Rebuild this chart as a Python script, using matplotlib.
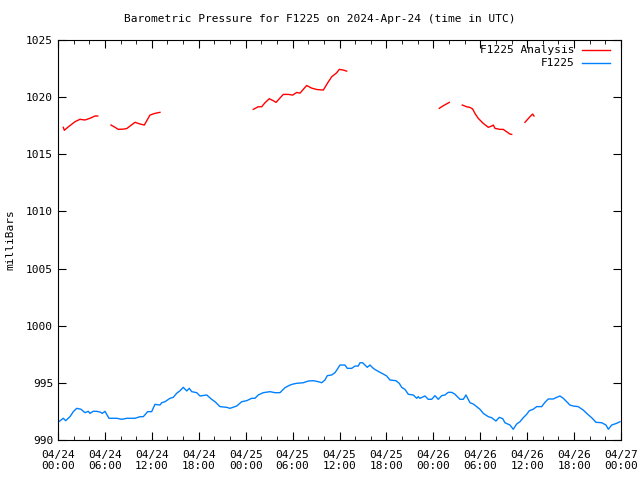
import numpy as np
import pandas as pd
import matplotlib
matplotlib.use('Agg')
import matplotlib.pyplot as plt
import matplotlib.dates as mdates

# hours after 2024-04-24 00:00 UTC, pressure in mb
# analysis series, NaN marks the gaps between runs
ana_hours = [0.68, 0.81, 1.32, 2.17, 2.81, 3.45, 4.09, 4.73, 5.08, 5.9,
             6.78, 7.29, 7.71, 8.35, 8.79, 9.85, 10.49, 11.04, 11.76, 12.40, 13.04, 19.0,
             24.97, 25.61, 26.05, 26.47, 27.02, 27.53, 27.88, 28.81, 29.45, 30.01, 30.52,
             30.95, 31.80, 32.44, 33.08, 33.93, 34.57, 35.0, 35.64, 35.97, 36.48, 36.92, 43.0,
             48.76, 49.27, 50.04, 50.9,
             51.7, 52.26, 52.69, 53.03, 53.32, 53.75, 54.39, 55.03, 55.46, 55.67, 55.88,
             56.52, 56.94, 57.38, 57.80, 58.02, 58.9,
             59.72, 60.36, 60.70, 60.87]
ana_mb = [1017.36, 1017.1, 1017.4, 1017.85, 1018.06, 1018.0, 1018.15, 1018.35, 1018.35, np.nan,
          1017.56, 1017.36, 1017.18, 1017.2, 1017.25, 1017.8, 1017.65, 1017.56, 1018.43, 1018.58, 1018.67, np.nan,
          1018.93, 1019.16, 1019.16, 1019.51, 1019.86, 1019.69, 1019.54, 1020.24, 1020.24, 1020.18, 1020.41,
          1020.35, 1021.02, 1020.79, 1020.67, 1020.62, 1021.34, 1021.78, 1022.13, 1022.43, 1022.37, 1022.28, np.nan,
          1019.02, 1019.25, 1019.54, np.nan,
          1019.31, 1019.16, 1019.1, 1018.96, 1018.58, 1018.14, 1017.7, 1017.36, 1017.47, 1017.56, 1017.27,
          1017.18, 1017.18, 1016.97, 1016.77, 1016.74, np.nan,
          1017.8, 1018.29, 1018.52, 1018.35]

obs_hours = [0.1, 0.68, 0.98, 1.53, 1.96, 2.39, 2.94, 3.45, 3.87, 4.09, 4.51, 4.95, 5.37, 5.66, 6.01,
             6.52, 7.51, 8.15, 8.79, 9.85, 10.49, 10.91, 11.47, 11.98, 12.40, 13.04, 13.26, 13.68,
             14.32, 14.74, 15.18, 15.60, 16.02, 16.46, 16.79, 17.10, 17.74, 18.16, 19.02, 19.65,
             20.08, 20.72, 21.57, 21.99, 22.85, 23.49, 24.13, 24.77, 25.19, 25.61, 26.25, 27.11,
             27.75, 28.39, 29.03, 29.67, 30.09, 30.52, 31.37, 32.01, 32.65, 33.29, 33.72, 34.14,
             34.44, 35.0, 35.42, 35.72, 36.06, 36.70, 36.99, 37.56, 37.98, 38.40, 38.62, 38.96,
             39.26, 39.55, 39.90, 40.32, 40.66, 41.18, 41.60, 42.03, 42.46, 43.22, 43.64, 43.95,
             44.37, 44.80, 45.43, 45.87, 46.07, 46.29, 46.93, 47.35, 47.79, 48.21, 48.63, 49.07,
             49.49, 49.91, 50.35, 50.77, 51.41, 51.83, 52.17, 52.69, 53.11, 53.54, 53.96, 54.39,
             55.03, 55.46, 56.01, 56.43, 56.87, 57.16, 57.80, 58.22, 58.66, 59.08, 59.50, 59.94,
             60.27, 60.78, 61.21, 61.85, 62.28, 62.70, 63.34, 63.77, 64.19, 64.62, 65.05, 65.47,
             65.90, 66.53, 67.17, 67.61, 68.25, 68.80, 69.53, 70.08, 70.38, 70.81, 71.45, 71.87]
obs_mb = [991.6, 991.9, 991.69, 992.04, 992.48, 992.77, 992.69, 992.39, 992.51, 992.33, 992.51, 992.51,
          992.45, 992.33, 992.51, 991.9, 991.9, 991.81, 991.9, 991.9, 992.04, 992.04, 992.48, 992.48,
          993.12, 993.06, 993.26, 993.35, 993.65, 993.73, 994.09, 994.31, 994.61, 994.29, 994.52,
          994.23, 994.14, 993.85, 993.94, 993.56, 993.35, 992.92, 992.86, 992.77, 992.97, 993.35,
          993.44, 993.65, 993.65, 993.94, 994.14, 994.23, 994.14, 994.14, 994.58, 994.81, 994.9,
          994.96, 995.01, 995.16, 995.19, 995.1, 995.01, 995.25, 995.63, 995.69, 995.89, 996.19,
          996.56, 996.56, 996.27, 996.27, 996.47, 996.47, 996.76, 996.76, 996.56, 996.36, 996.56,
          996.27, 996.12, 995.92, 995.77, 995.6, 995.25, 995.19, 994.96, 994.61, 994.43, 994.0,
          993.94, 993.65, 993.79, 993.65, 993.85, 993.56, 993.56, 993.88, 993.56, 993.88, 993.94,
          994.17, 994.17, 994.0, 993.56, 993.56, 993.94, 993.26, 993.15, 992.92, 992.69, 992.33,
          992.04, 991.95, 991.66, 991.98, 991.87, 991.51, 991.31, 990.94, 991.4, 991.6, 991.95,
          992.25, 992.56, 992.69, 992.92, 992.92, 993.3, 993.59, 993.59, 993.73, 993.85, 993.65,
          993.35, 993.06, 992.97, 992.92, 992.62, 992.33, 991.95, 991.55, 991.51, 991.31, 990.94,
          991.31, 991.46, 991.6]

labels = ['F1225 Analysis', 'F1225']
colors = ['#ff0000', '#0080ff']

start = pd.Timestamp('2024-04-24 00:00')
ana_t = start + pd.to_timedelta(ana_hours, unit='h')
obs_t = start + pd.to_timedelta(obs_hours, unit='h')

plt.rcParams['font.family'] = ['DejaVu Sans Mono']
plt.rcParams['font.size'] = 8

fig = plt.figure(figsize=(6.4, 4.8), dpi=100)
ax = fig.add_axes([58 / 640, 40 / 480, 563 / 640, 400 / 480])

ax.plot(ana_t, ana_mb, color=colors[0], lw=1)
ax.plot(obs_t, obs_mb, color=colors[1], lw=1)

ax.set_xlim(start, start + pd.Timedelta(hours=72))
ax.set_ylim(990, 1025)
ax.set_yticks(np.arange(990, 1026, 5))
ax.xaxis.set_major_locator(mdates.HourLocator(byhour=[0, 6, 12, 18]))
ax.xaxis.set_minor_locator(mdates.HourLocator(interval=2))
ax.xaxis.set_major_formatter(mdates.DateFormatter('%m/%d\n%H:%M'))
ax.tick_params(which='both', direction='in', top=True, right=True)
ax.tick_params(which='major', length=6)
ax.tick_params(which='minor', length=3)
ax.tick_params(axis='x', pad=7)

fig.text(0.5, 1 - 19 / 480, 'Barometric Pressure for F1225 on 2024-Apr-24 (time in UTC)',
         ha='center', va='center', fontsize=8)
ax.set_ylabel('milliBars', fontsize=8, labelpad=8)

# gnuplot style key: right aligned text, sample line to the right
for i, (lab, c) in enumerate(zip(labels, colors)):
    y = 0.975 - i * 0.0325
    ax.text(0.918, y, lab, transform=ax.transAxes, ha='right', va='center', fontsize=8)
    ax.plot([0.931, 0.980], [y, y], transform=ax.transAxes, color=c, lw=1)

fig.savefig('out.png', dpi=100)
